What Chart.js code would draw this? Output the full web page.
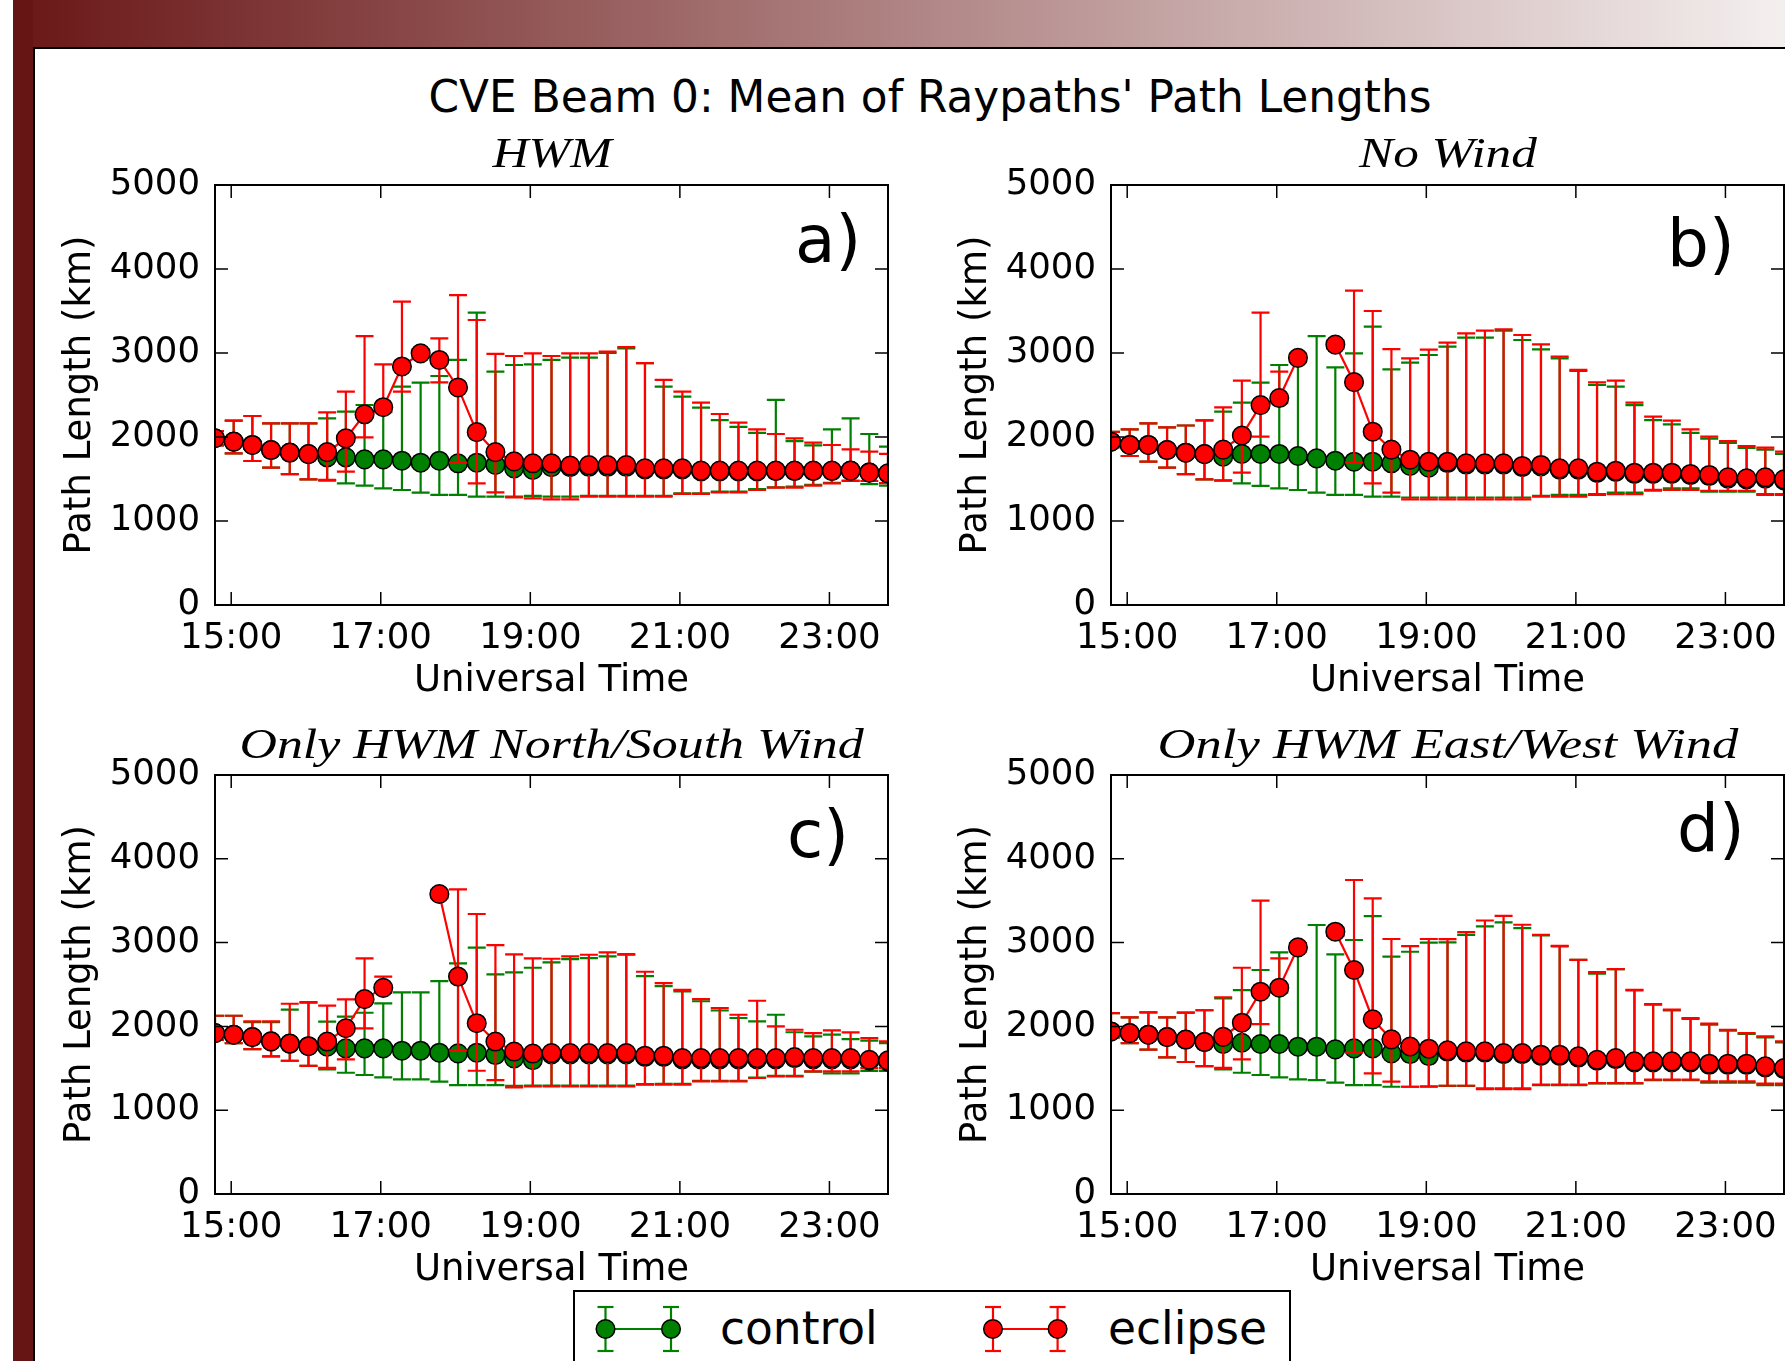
<!DOCTYPE html>
<html><head><meta charset="utf-8">
<script src="https://cdn.jsdelivr.net/npm/chart.js@4.4.1/dist/chart.umd.min.js"></script>
<style>
html,body{margin:0;padding:0;background:#fff;}
#page{position:relative;width:1785px;height:1361px;overflow:hidden;background:#fff;}
.blk{position:absolute;}
#banner{left:13px;top:0;width:1772px;height:47px;background:linear-gradient(to right,#6a1717,#f4efef);}
#strip{left:13px;top:0;width:20px;height:1361px;background:#661414;}
#vline{left:33px;top:47px;width:2px;height:1314px;background:#000;}
#hline{left:33px;top:47px;width:1752px;height:2px;background:#000;}
canvas{position:absolute;}
.txt{position:absolute;white-space:nowrap;line-height:1;color:#000;}
#legend{position:absolute;left:573px;top:1290px;width:714px;height:120px;border:2px solid #000;background:#fff;}
</style></head>
<body>
<div id="page">
  <div id="banner" class="blk"></div>
  <div id="strip" class="blk"></div>
  <div id="vline" class="blk"></div>
  <div id="hline" class="blk"></div>
</div>
<script>
// ---------------- data ----------------
const times = ["14:47","15:02","15:17","15:32","15:47","16:02","16:17","16:32","16:47","17:02","17:17","17:32","17:47","18:02","18:17","18:32","18:47","19:02","19:17","19:32","19:47","20:02","20:17","20:32","20:47","21:02","21:17","21:32","21:47","22:02","22:17","22:32","22:47","23:02","23:17","23:32","23:47"];
const xTickLabels = ["15:00","17:00","19:00","21:00","23:00"];
const yTickValues = [0,1000,2000,3000,4000,5000];
const yTickLabels = ["0","1000","2000","3000","4000","5000"];
const panelTitles = ["HWM","No Wind","Only HWM North/South Wind","Only HWM East/West Wind"];
const panelLetters = ["a)","b)","c)","d)"];
const seriesNames = ["control","eclipse"];

// Panel a: HWM
const hwmControl     = [1985,1945,1905,1845,1815,1796,1758,1758,1734,1734,1718,1694,1718,1687,1694,1667,1627,1607,1640,1640,1645,1645,1645,1615,1615,1615,1590,1590,1590,1590,1595,1595,1595,1595,1600,1580,1565];
const hwmControlLow  = [1900,1806,1714,1635,1558,1496,1480,1448,1421,1389,1369,1337,1310,1310,1290,1290,1290,1300,1290,1290,1300,1300,1300,1300,1300,1330,1330,1350,1350,1380,1400,1410,1430,1455,1480,1440,1420];
const hwmControlHigh = [2070,2194,2250,2163,2163,2163,2222,2302,2381,2300,2599,2647,2726,2917,3480,2778,2857,2865,2917,2944,2944,3000,3056,2880,2600,2480,2350,2200,2120,2050,2441,1950,1900,2091,2222,2036,1885];
const hwmEclipse     = [1985,1945,1905,1845,1815,1796,1820,1984,2270,2355,2840,2996,2917,2590,2058,1820,1710,1687,1687,1659,1665,1665,1665,1627,1627,1627,1600,1600,1600,1600,1600,1600,1600,1600,1600,1576,1568];
const hwmEclipseLow  = [1900,1806,1714,1635,1558,1496,1490,1587,1996,2295,2540,2946,2650,1694,1448,1341,1282,1270,1258,1258,1290,1290,1290,1290,1290,1322,1322,1341,1341,1369,1397,1397,1421,1449,1476,1476,1450];
const hwmEclipseHigh = [2070,2194,2250,2163,2163,2163,2294,2540,3202,2865,3611,3046,3175,3690,3393,2990,2964,2996,2964,2996,2996,3016,3070,2880,2679,2540,2409,2274,2171,2091,2036,1984,1933,1905,1853,1826,1798];

// Panel b: No Wind
const noWindControl     = [1944,1905,1905,1845,1813,1796,1766,1798,1798,1798,1774,1746,1718,1706,1706,1687,1655,1635,1690,1672,1672,1672,1640,1650,1612,1612,1572,1585,1560,1560,1560,1545,1535,1505,1495,1505,1482];
const noWindControlLow  = [1880,1774,1706,1635,1558,1496,1480,1448,1417,1389,1369,1337,1310,1310,1290,1290,1280,1280,1280,1280,1280,1280,1280,1300,1310,1310,1310,1337,1337,1361,1389,1389,1350,1350,1350,1310,1310];
const noWindControlHigh = [2060,2091,2163,2115,2137,2198,2302,2409,2647,2857,2917,3202,2829,2996,3313,2806,2885,2976,3075,3183,3183,3266,3155,3044,2937,2786,2619,2600,2380,2200,2150,2050,1980,1930,1870,1850,1800];
const noWindEclipse     = [1944,1905,1905,1845,1813,1796,1850,2018,2380,2464,2942,null,3100,2653,2063,1850,1730,1706,1706,1687,1687,1687,1655,1667,1627,1627,1587,1599,1575,1575,1575,1560,1548,1520,1508,1520,1496];
const noWindEclipseLow  = [1880,1774,1706,1635,1558,1496,1484,1575,2004,2404,2892,null,3050,1694,1448,1337,1258,1258,1258,1258,1258,1258,1258,1290,1290,1290,1320,1320,1320,1370,1370,1370,1360,1360,1360,1320,1320];
const noWindEclipseHigh = [2060,2091,2163,2115,2137,2198,2353,2671,3480,2778,2992,null,3150,3742,3500,3046,2936,3040,3123,3234,3266,3282,3214,3103,2956,2798,2651,2671,2409,2242,2194,2091,2004,1952,1893,1873,1825];

// Panel c: Only HWM North/South Wind
const nsControl     = [1920,1901,1873,1821,1795,1764,1758,1738,1738,1738,1710,1710,1686,1678,1686,1658,1618,1598,1665,1665,1665,1665,1665,1635,1635,1607,1607,1607,1607,1607,1607,1620,1607,1607,1607,1590,1580];
const nsControlLow  = [1840,1801,1730,1642,1590,1530,1487,1447,1420,1392,1368,1368,1340,1300,1300,1300,1290,1295,1295,1295,1295,1295,1295,1310,1315,1315,1350,1350,1350,1390,1410,1410,1460,1440,1440,1470,1470];
const nsControlHigh = [2127,2127,2050,2050,2200,2283,2056,2116,2163,2275,2406,2406,2541,2752,2939,2621,2645,2700,2763,2803,2815,2835,2855,2600,2480,2417,2300,2190,2100,2060,2139,1930,1880,1901,1849,1830,1800];
const nsEclipse     = [1920,1901,1873,1821,1795,1764,1819,1978,2325,2460,null,null,3580,2595,2038,1819,1700,1676,1682,1682,1682,1682,1682,1650,1650,1622,1622,1622,1622,1622,1622,1634,1622,1622,1622,1602,1594];
const nsEclipseLow  = [1840,1801,1730,1642,1590,1530,1505,1606,1976,2400,null,null,3530,1710,1471,1360,1272,1284,1284,1284,1284,1284,1284,1304,1304,1304,1344,1344,1344,1384,1404,1404,1463,1463,1463,1503,1503];
const nsEclipseHigh = [2127,2127,2060,2060,2270,2290,2247,2323,2812,2593,null,null,3630,3635,3341,2971,2860,2812,2807,2835,2855,2883,2863,2652,2517,2437,2326,2219,2139,2306,2000,1960,1920,1952,1928,1861,1821];

// Panel d: Only HWM East/West Wind
const ewControl     = [1940,1920,1901,1873,1843,1813,1790,1805,1790,1790,1758,1758,1726,1738,1738,1678,1670,1646,1700,1688,1688,1668,1668,1648,1648,1628,1590,1608,1570,1570,1570,1570,1542,1542,1542,1510,1490];
const ewControlLow  = [1870,1801,1722,1630,1575,1525,1487,1447,1420,1392,1368,1360,1328,1300,1300,1280,1280,1285,1290,1290,1260,1260,1260,1300,1300,1300,1320,1320,1320,1360,1360,1360,1330,1330,1330,1300,1300];
const ewControlHigh = [2159,2107,2167,2107,2165,2193,2334,2434,2673,2883,2930,3210,2860,3031,3317,2832,2891,2999,3002,3093,3193,3241,3173,3085,2954,2795,2630,2684,2430,2260,2190,2090,2020,1950,1910,1870,1810];
const ewEclipse     = [1940,1920,1901,1873,1843,1813,1875,2044,2414,2462,2943,null,3130,2673,2084,1845,1760,1734,1714,1702,1702,1682,1682,1662,1662,1642,1602,1622,1583,1583,1583,1583,1555,1555,1555,1523,1503];
const ewEclipseLow  = [1870,1801,1722,1630,1575,1525,1505,1606,2028,2402,2893,null,3080,1686,1439,1340,1280,1280,1292,1292,1252,1252,1252,1304,1304,1304,1324,1324,1324,1364,1364,1364,1344,1344,1344,1316,1316];
const ewEclipseHigh = [2159,2107,2167,2107,2165,2193,2348,2700,3500,2812,2993,null,3180,3747,3528,3043,2959,3043,3042,3125,3264,3320,3213,3093,2962,2795,2648,2684,2437,2266,2199,2099,2032,1960,1920,1881,1821];

// ---------------- helpers ----------------
function toHours(s){ const p = s.split(':').map(Number); return p[0] + p[1]/60; }
const xHours = times.map(toHours);
const RED = '#ff0000', GREEN = '#008000';
const CAP = 9, TICKLEN = 13, MARKER_R = 9.3;
const page = document.getElementById('page');

const errorBarPlugin = {
  id: 'errbars',
  beforeDatasetDraw(chart, args) {
    const ds = chart.data.datasets[args.index];
    if (!ds.errLow) return;
    const ctx = chart.ctx, xs = chart.scales.x, ys = chart.scales.y, a = chart.chartArea;
    ctx.save();
    ctx.beginPath(); ctx.rect(a.left, a.top, a.right - a.left, a.bottom - a.top); ctx.clip();
    ctx.strokeStyle = ds.errColor; ctx.lineWidth = 2.2; ctx.lineCap = 'butt';
    ds.data.forEach((p, i) => {
      const lo = ds.errLow[i], hi = ds.errHigh[i];
      if (lo == null || hi == null || p.y == null) return;
      const x = xs.getPixelForValue(p.x), y1 = ys.getPixelForValue(lo), y2 = ys.getPixelForValue(hi);
      ctx.beginPath();
      ctx.moveTo(x, y1); ctx.lineTo(x, y2);
      ctx.moveTo(x - CAP, y1); ctx.lineTo(x + CAP, y1);
      ctx.moveTo(x - CAP, y2); ctx.lineTo(x + CAP, y2);
      ctx.stroke();
    });
    ctx.restore();
  }
};

const framePlugin = {
  id: 'frame',
  afterDraw(chart) {
    const ctx = chart.ctx, a = chart.chartArea, xs = chart.scales.x, ys = chart.scales.y;
    ctx.save();
    ctx.strokeStyle = '#000'; ctx.lineWidth = 1.5;
    ctx.beginPath();
    xs.ticks.forEach(t => {
      const px = xs.getPixelForValue(t.value);
      ctx.moveTo(px, a.bottom); ctx.lineTo(px, a.bottom - TICKLEN);
      ctx.moveTo(px, a.top); ctx.lineTo(px, a.top + TICKLEN);
    });
    ys.ticks.forEach(t => {
      const py = ys.getPixelForValue(t.value);
      ctx.moveTo(a.left, py); ctx.lineTo(a.left + TICKLEN, py);
      ctx.moveTo(a.right, py); ctx.lineTo(a.right - TICKLEN, py);
    });
    ctx.stroke();
    ctx.lineWidth = 2;
    ctx.strokeRect(a.left, a.top, a.right - a.left, a.bottom - a.top);
    ctx.restore();
  }
};

function series(label, vals, lo, hi, color, order) {
  return {
    label, order,
    data: xHours.map((x, i) => ({x, y: vals[i]})),
    errLow: lo, errHigh: hi, errColor: color,
    borderColor: color, backgroundColor: color, borderWidth: 2.2,
    pointBackgroundColor: color, pointBorderColor: '#000', pointBorderWidth: 1.5,
    pointRadius: MARKER_R, pointHoverRadius: MARKER_R, tension: 0, spanGaps: false, fill: false, clip: 0
  };
}

const CW = 873;
const panels = [
  {left: 35,  top: 125, h: 580, c: [hwmControl, hwmControlLow, hwmControlHigh], e: [hwmEclipse, hwmEclipseLow, hwmEclipseHigh]},
  {left: 931, top: 125, h: 580, c: [noWindControl, noWindControlLow, noWindControlHigh], e: [noWindEclipse, noWindEclipseLow, noWindEclipseHigh]},
  {left: 35,  top: 715, h: 579, c: [nsControl, nsControlLow, nsControlHigh], e: [nsEclipse, nsEclipseLow, nsEclipseHigh]},
  {left: 931, top: 715, h: 579, c: [ewControl, ewControlLow, ewControlHigh], e: [ewEclipse, ewEclipseLow, ewEclipseHigh]}
];

panels.forEach(p => {
  const cv = document.createElement('canvas');
  cv.width = CW; cv.height = p.h;
  cv.style.left = p.left + 'px'; cv.style.top = p.top + 'px';
  cv.style.width = CW + 'px'; cv.style.height = p.h + 'px';
  page.appendChild(cv);
  new Chart(cv.getContext('2d'), {
    type: 'line',
    data: { datasets: [
      series(seriesNames[1], p.e[0], p.e[1], p.e[2], RED, 0),
      series(seriesNames[0], p.c[0], p.c[1], p.c[2], GREEN, 1)
    ]},
    options: {
      responsive: false, animation: false, devicePixelRatio: 1,
      events: [],
      layout: { padding: { left: 0, right: 20, top: 60, bottom: 0 } },
      plugins: { legend: { display: false }, tooltip: { enabled: false }, title: { display: false } },
      scales: {
        x: {
          type: 'linear', min: xHours[0], max: xHours[xHours.length - 1],
          grid: { display: false, drawTicks: false }, border: { display: false },
          afterBuildTicks: s => { s.ticks = xTickLabels.map(l => ({ value: toHours(l) })); },
          afterFit: s => { s.height = 100; },
          ticks: { autoSkip: false, maxRotation: 0, minRotation: 0, padding: 12, color: '#000',
                   font: { family: 'DejaVu Sans', size: 35.5 }, callback: (v, i) => xTickLabels[i] },
          title: { display: true, text: 'Universal Time', color: '#000',
                   font: { family: 'DejaVu Sans', size: 37 }, padding: { top: 0, bottom: 1.5 } }
        },
        y: {
          type: 'linear', min: 0, max: 5000,
          grid: { display: false, drawTicks: false }, border: { display: false },
          afterBuildTicks: s => { s.ticks = yTickValues.map(v => ({ value: v })); },
          afterFit: s => { s.width = 180; },
          ticks: { autoSkip: false, padding: 15, color: '#000',
                   font: { family: 'DejaVu Sans', size: 35.5 }, callback: (v, i) => yTickLabels[i] },
          title: { display: true, text: 'Path Length (km)', color: '#000',
                   font: { family: 'DejaVu Sans', size: 37 }, padding: { top: 23.5, bottom: 0 } }
        }
      }
    },
    plugins: [errorBarPlugin, framePlugin]
  });
});

// ---------------- texts ----------------
function addText(str, font, left, top) {
  const el = document.createElement('div');
  el.className = 'txt'; el.textContent = str; el.style.font = font;
  el.style.lineHeight = '1';
  el.style.left = left + 'px'; el.style.top = top + 'px';
  page.appendChild(el);
  return el;
}
// main title
const mt = addText("CVE Beam 0: Mean of Raypaths' Path Lengths", '43.8px "DejaVu Sans"', 0, 74.5);
mt.style.left = (930 - mt.offsetWidth / 2) + 'px';

// subplot titles (italic serif)
const titleCx = [551.5, 1447.5, 551.5, 1447.5];
const titleTop = [132, 132, 723, 723];
const titleW = [119, 178, 624, 581];
panelTitles.forEach((t, k) => {
  const el = addText(t, 'italic 42px "Liberation Serif"', 0, titleTop[k]);
  const w = el.offsetWidth;
  el.style.left = (titleCx[k] - w / 2) + 'px';
  el.style.transformOrigin = '50% 50%';
  el.style.transform = 'scaleX(' + (titleW[k] / w).toFixed(3) + ')';
});

// panel letters
const letterPos = [[795, 207], [1667, 211], [787, 802], [1677, 796]];
panelLetters.forEach((t, k) => addText(t, '66px "DejaVu Sans"', letterPos[k][0], letterPos[k][1]));

// legend
const lg = document.createElement('div'); lg.id = 'legend'; page.appendChild(lg);
const svgNS = 'http://www.w3.org/2000/svg';
const svg = document.createElementNS(svgNS, 'svg');
svg.setAttribute('width', '1785'); svg.setAttribute('height', '1361');
svg.style.position = 'absolute'; svg.style.left = '0'; svg.style.top = '0';
function sv(tag, attrs) { const e = document.createElementNS(svgNS, tag); for (const k in attrs) e.setAttribute(k, attrs[k]); svg.appendChild(e); return e; }
function legendSymbol(x1, x2, y, color) {
  sv('line', {x1, y1: y, x2, y2: y, stroke: color, 'stroke-width': 2.2});
  [x1, x2].forEach(x => {
    sv('line', {x1: x, y1: y - 22, x2: x, y2: y + 22, stroke: color, 'stroke-width': 2.2});
    sv('line', {x1: x - 8, y1: y - 22, x2: x + 8, y2: y - 22, stroke: color, 'stroke-width': 2.2});
    sv('line', {x1: x - 8, y1: y + 22, x2: x + 8, y2: y + 22, stroke: color, 'stroke-width': 2.2});
    sv('circle', {cx: x, cy: y, r: MARKER_R, fill: color, stroke: '#000', 'stroke-width': 1.5});
  });
}
legendSymbol(605.5, 671, 1329, GREEN);
legendSymbol(993, 1057.6, 1329, RED);
page.appendChild(svg);
addText(seriesNames[0], '45.5px "DejaVu Sans"', 720, 1306);
addText(seriesNames[1], '45.5px "DejaVu Sans"', 1108, 1306);
</script>
</body></html>
